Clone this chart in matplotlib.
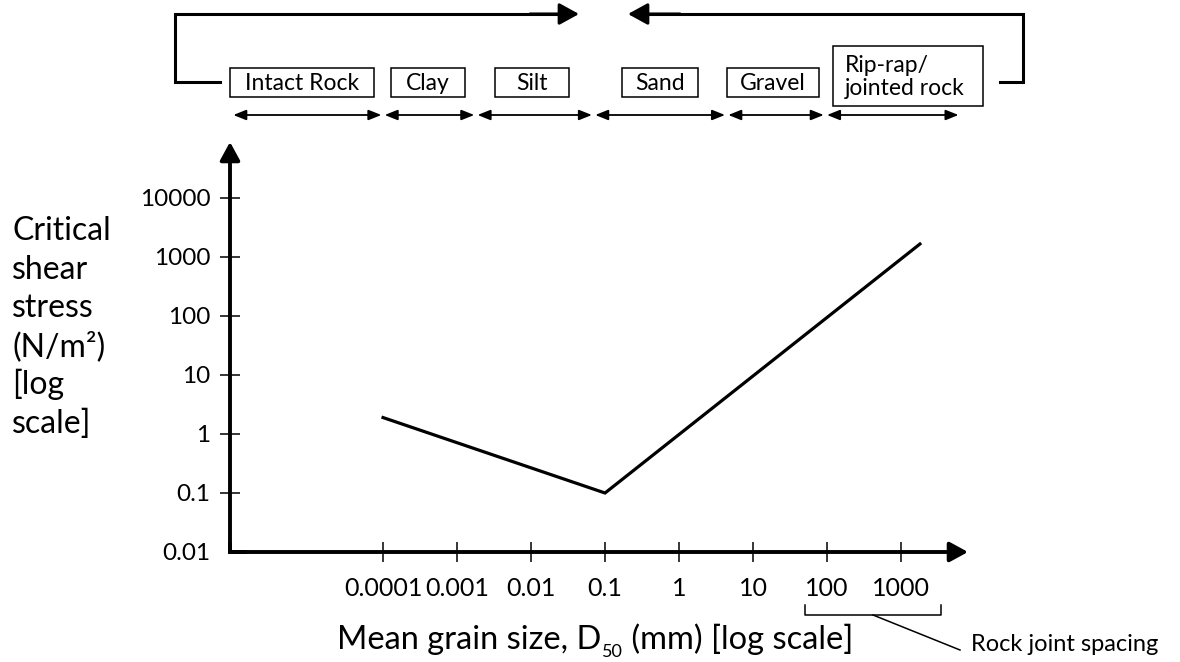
import matplotlib

matplotlib.use("Agg")
import matplotlib.pyplot as plt
import numpy as np
from matplotlib.patches import Rectangle
from matplotlib.ticker import NullLocator
from matplotlib.transforms import blended_transform_factory

plt.rcParams["font.family"] = ["Lato", "DejaVu Sans"]

# critical shear stress vs mean grain size
grain_mm = [1e-4, 0.1, 1800]
shear_nm2 = [1.9, 0.1, 1660]

x_ticks = [1e-4, 1e-3, 1e-2, 1e-1, 1, 10, 100, 1000]
x_ticklabels = ["0.0001", "0.001", "0.01", "0.1", "1", "10", "100", "1000"]
y_ticks = [0.01, 0.1, 1, 10, 100, 1000, 10000]
y_ticklabels = ["0.01", "0.1", "1", "10", "100", "1000", "10000"]

# material classes along the grain size axis, edges in mm
classes = ["Intact Rock", "Clay", "Silt", "Sand", "Gravel", "Rip-rap/\njointed rock"]
class_edges = [9e-7, 1e-4, 0.0018, 0.07, 4.4, 95, 6300]
joint_spacing_mm = [50, 3500]

ylabel_lines = ["Critical", "shear", "stress", "(N/m²)", "[log", "scale]"]

W, H = 1180, 662
fig = plt.figure(figsize=(W / 100, H / 100), dpi=100)

# main plot, placed in pixels: origin (230, 552), x arrow tip 968, y arrow tip 142
ax = fig.add_axes([230 / W, 1 - 552 / H, (968 - 230) / W, (552 - 142) / H])
ax.set_xscale("log")
ax.set_yscale("log")
ax.set_xlim(10 ** -6.068, 10 ** 3.905)
ax.set_ylim(10 ** -2, 10 ** 4.949)
for s in ax.spines.values():
    s.set_visible(False)
ax.patch.set_visible(False)

ax.set_xticks(x_ticks, x_ticklabels)
ax.set_yticks(y_ticks, y_ticklabels)
ax.xaxis.set_minor_locator(NullLocator())
ax.yaxis.set_minor_locator(NullLocator())
ax.tick_params(direction="inout", length=14.4, width=1.1, color="k")
ax.tick_params(axis="x", pad=11.0, labelsize=18)
ax.tick_params(axis="y", pad=7.0, labelsize=17.5)
ax.yaxis.get_major_ticks()[0].tick1line.set_visible(False)

ax.plot(grain_mm, shear_nm2, color="k", lw=2.3, solid_joinstyle="miter")

# axis arrows
ax_arrow = dict(arrowstyle="-|>,head_length=0.55,head_width=0.3", color="k", lw=2.8,
                shrinkA=0, shrinkB=0, mutation_scale=20)
ax.annotate("", xy=(1, 0), xytext=(0, 0), xycoords="axes fraction", arrowprops=ax_arrow)
ax.annotate("", xy=(0, 1), xytext=(0, 0), xycoords="axes fraction", arrowprops=ax_arrow)
ax.plot([0, 0, 0.02], [0.02, 0, 0], transform=ax.transAxes, color="k", lw=2.8,
        solid_joinstyle="miter", clip_on=False)

# overlay in pixel coordinates for the annotations
ov = fig.add_axes([0, 0, 1, 1])
ov.set_xlim(0, W)
ov.set_ylim(H, 0)
ov.axis("off")
bt = blended_transform_factory(ax.transData, ov.transData)

# class range arrows
for a, b in zip(class_edges[:-1], class_edges[1:]):
    ov.annotate("", xy=(b, 115), xytext=(a, 115), xycoords=bt, textcoords=bt,
                arrowprops=dict(arrowstyle="<|-|>,head_length=0.55,head_width=0.22",
                                color="k", lw=1.3, shrinkA=1.2, shrinkB=1.2,
                                mutation_scale=14))

# class boxes
BOX_X = [(230, 374), (391, 465), (495, 569), (622, 698), (727, 819), (833, 983)]
for name, (x0, x1) in zip(classes, BOX_X):
    if "\n" in name:
        y0, y1 = 46, 106
        ov.text(845, (y0 + y1) / 2 + 1, name, ha="left", va="center", fontsize=16.5,
                linespacing=1.1)
    else:
        y0, y1 = 68, 97
        ov.text((x0 + x1) / 2, (y0 + y1) / 2 + 1, name, ha="center", va="center",
                fontsize=16.5)
    ov.add_patch(Rectangle((x0, y0), x1 - x0, y1 - y0, fill=False, ec="k", lw=1.1))

# the two big arrows on top
ov.plot([220, 175, 175, 560], [82, 82, 14, 14], color="k", lw=2.2,
        solid_joinstyle="miter")
ov.plot([1000, 1023, 1023, 650], [82, 82, 14, 14], color="k", lw=2.2,
        solid_joinstyle="miter")
top_arrow = dict(arrowstyle="-|>,head_length=0.6,head_width=0.33", color="k", lw=2.2,
                 shrinkA=0, shrinkB=0, mutation_scale=20)
ov.annotate("", xy=(579, 14), xytext=(530, 14), arrowprops=top_arrow)
ov.annotate("", xy=(628, 14), xytext=(680, 14), arrowprops=top_arrow)

# rock joint spacing bracket
j0, j1 = joint_spacing_mm
ov.plot([j0, j0, j1, j1], [605, 615, 615, 605], transform=bt, color="k", lw=1.1)
xm = ax.transData.transform((np.sqrt(j0 * j1), 1))[0]
ov.plot([xm, 960], [615, 650], color="k", lw=1.1)
ov.text(971, 651, "Rock joint spacing", ha="left", va="baseline", fontsize=17)

# x title, written in three pieces for the small subscript
t1 = ov.text(337, 649, "Mean grain size, D", ha="left", va="baseline", fontsize=23.5)
t2 = ov.annotate("50", xy=(1, 0), xycoords=t1, xytext=(0.5, -3.5),
                 textcoords="offset points", ha="left", va="bottom", fontsize=13)
ov.annotate(" (mm) [log scale]", xy=(1, 0), xycoords=(t2, t1), ha="left",
            va="bottom", fontsize=23.5)

for i, line in enumerate(ylabel_lines):
    ov.text(12, 240 + 38.6 * i, line, ha="left", va="baseline", fontsize=23)

fig.savefig("out.png", dpi=100)
